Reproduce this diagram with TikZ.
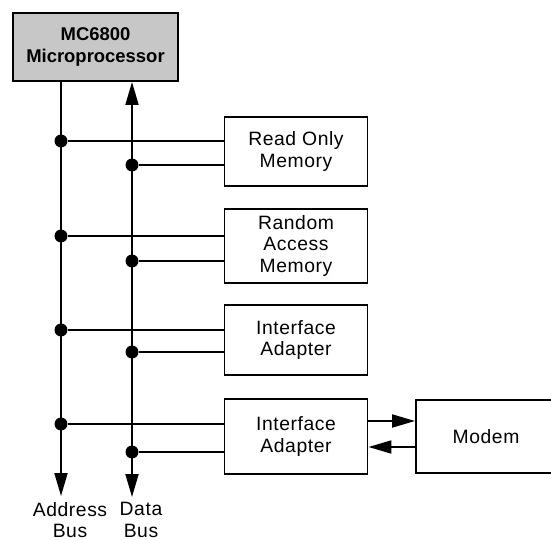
\documentclass[tikz,border=0pt]{standalone}
\usepackage{fontspec}
\setmainfont{Liberation Sans}[LetterSpace=3]
\newfontfamily\cpufont{Liberation Sans}
\usetikzlibrary{arrows.meta}
\tikzstyle{unit}=[draw,line width=1.1pt,align=center,inner sep=0pt,font=\fontsize{11}{12}\selectfont]
\tikzstyle{cpu}=[unit,fill=black!22,font=\cpufont\fontsize{10.5}{12.4}\selectfont\bfseries]
\tikzstyle{tap}=[circle,fill=black,minimum size=0.26cm,inner sep=0pt]
\tikzstyle{bus}=[line width=1.1pt,>={Triangle[length=0.46cm,width=0.26cm]}]
\tikzstyle{label}=[align=center,inner sep=0pt,anchor=north,font=\fontsize{11}{12.2}\selectfont]

\begin{document}
\begin{tikzpicture}[x=0.02cm,y=-0.02cm]
    \useasboundingbox (0,0) rectangle (551,540);
    \node[cpu,minimum width=3.3cm,minimum height=1.36cm] (mpu) at (95.5,47) {MC6800\\Microprocessor};
    \node[unit,minimum width=2.86cm,minimum height=1.38cm] (rom) at (296,151.5) {Read Only\\Memory};
    \node[unit,minimum width=2.86cm,minimum height=1.48cm] (ram) at (296,246) {Random\\Access\\Memory};
    \node[unit,minimum width=2.86cm,minimum height=1.4cm] (pia1) at (296,340) {Interface\\Adapter};
    \node[unit,minimum width=2.86cm,minimum height=1.5cm] (pia2) at (296,436.5) {Interface\\Adapter};
    \node[unit,minimum width=2.8cm,minimum height=1.46cm] (modem) at (486,436.5) {Modem};

    \coordinate (abot) at (61,496);
    \coordinate (dbot) at (132,497);
    \draw[bus,->] (mpu.south -| abot) -- (abot);
    \draw[bus,<->] (mpu.south -| dbot) -- (dbot);

    \foreach \n/\y in {1/141,2/236,3/330,4/424}
    \node[tap] (a\n) at (61,\y) {};
    \foreach \n/\y in {1/165,2/261,3/352,4/452}
    \node[tap] (d\n) at (132,\y) {};

    \foreach \from/\to in {a1/rom,d1/rom,a2/ram,d2/ram,a3/pia1,d3/pia1,a4/pia2,d4/pia2}
    \draw[bus] (\from) -- (\from -| \to.west);

    \draw[bus,->] (pia2.east |- 0,421) -- (modem.west |- 0,421);
    \draw[bus,->] (modem.west |- 0,447) -- (pia2.east |- 0,447);

    \node[label] (alabel) at (70,502) {Address\\Bus};
    \node[label] (dlabel) at (141,502) {Data\\Bus};
\end{tikzpicture}
\end{document}
